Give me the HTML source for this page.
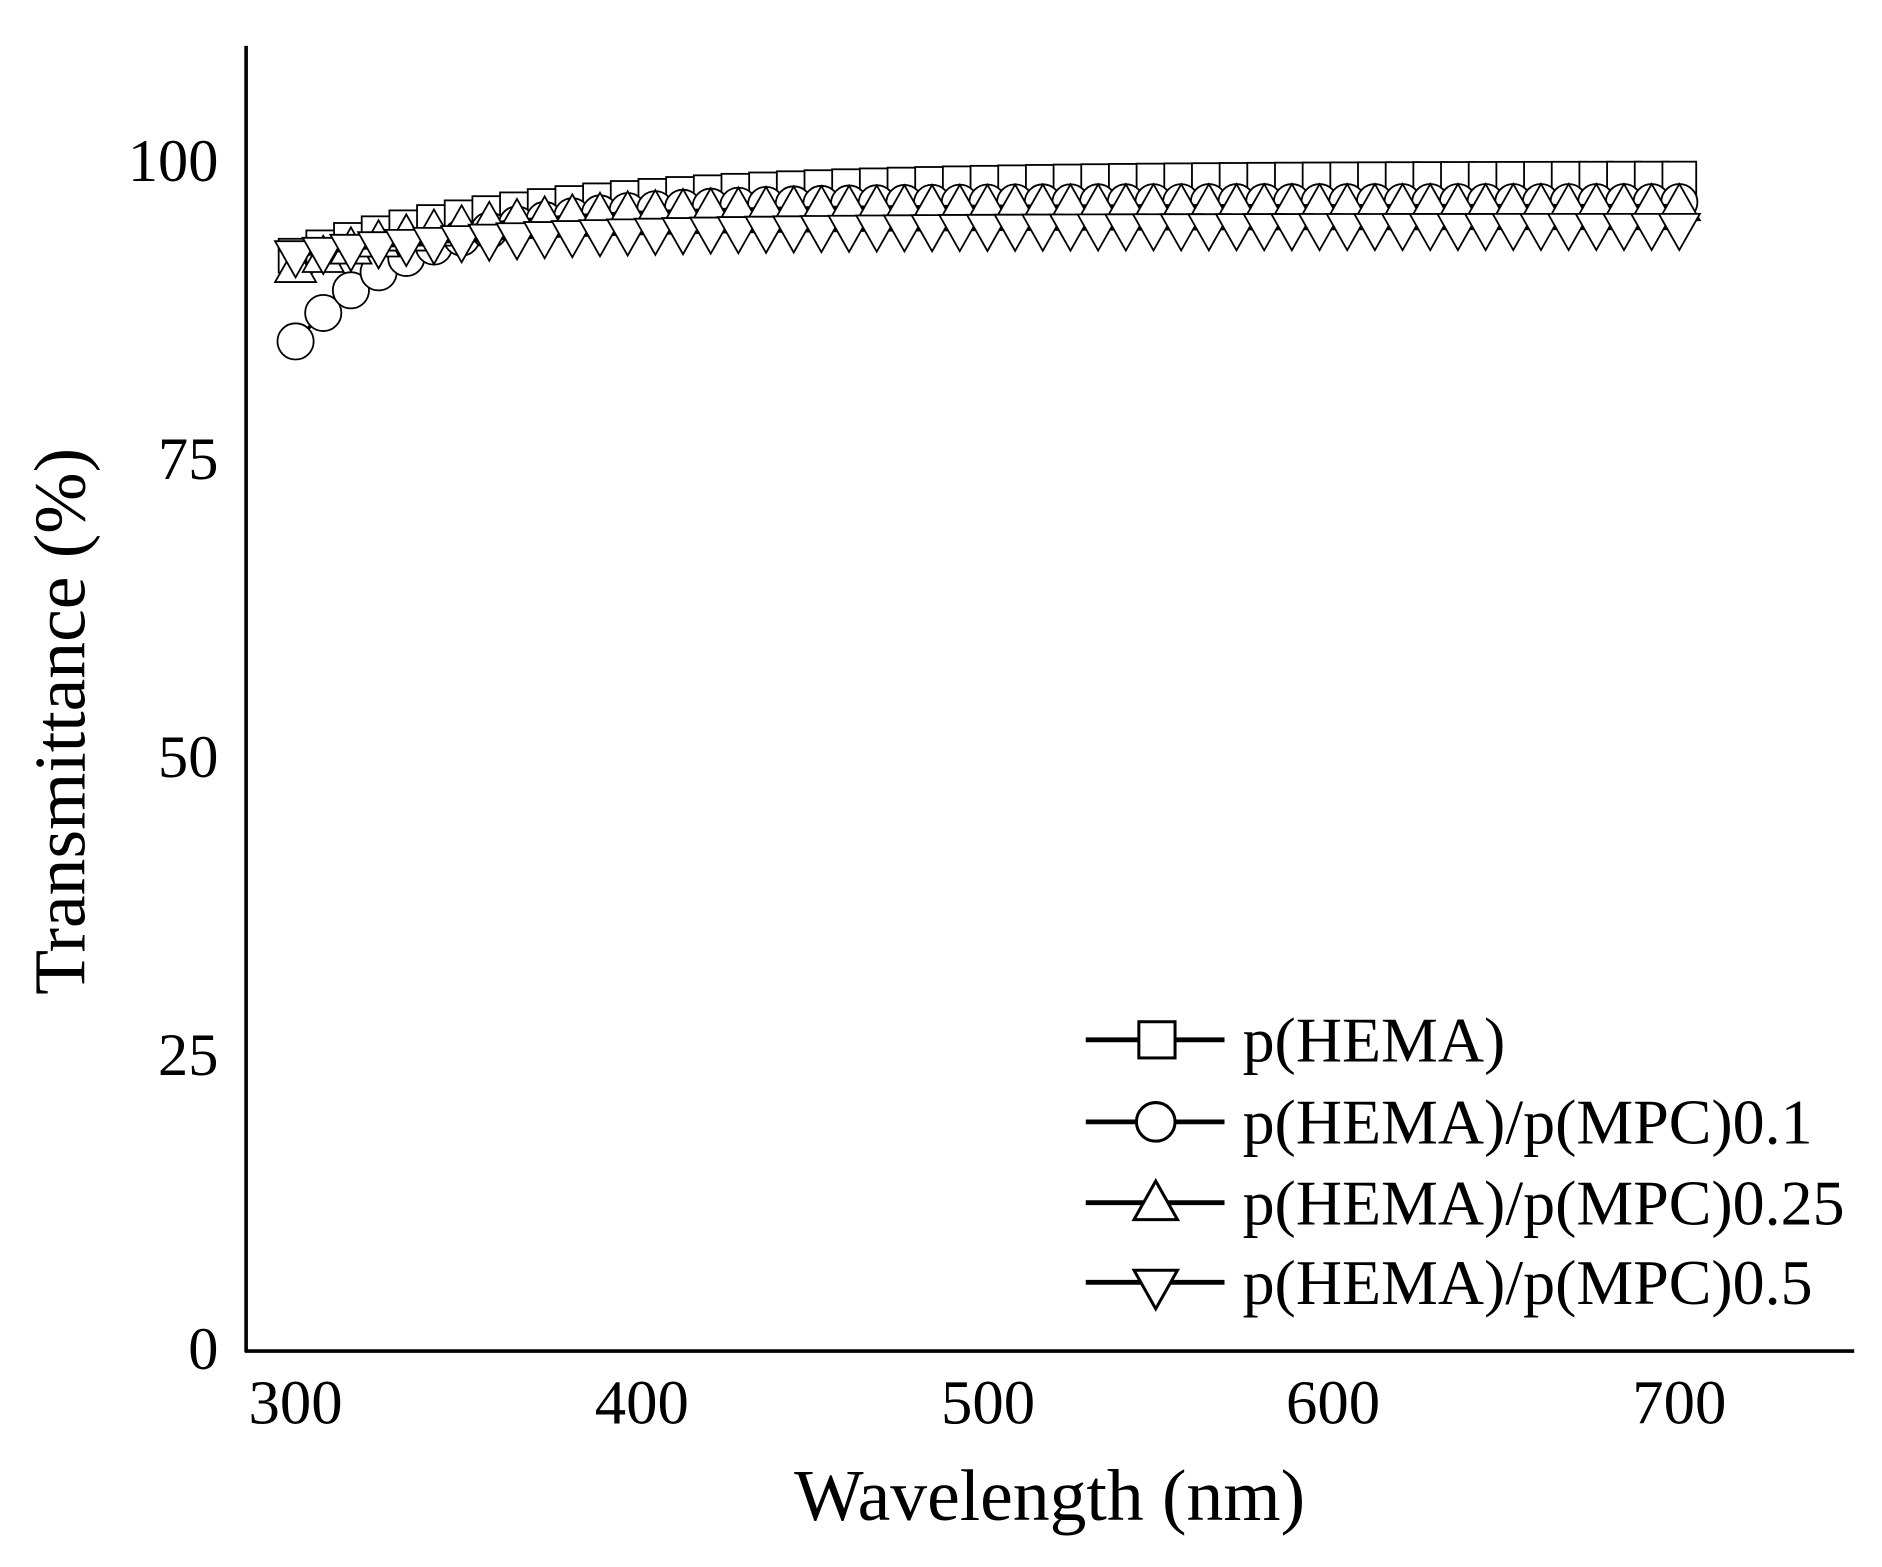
<!DOCTYPE html>
<html><head><style>
html,body{margin:0;padding:0;background:#fff;}
svg{display:block;}
text{font-family:"Liberation Serif",serif;fill:#000;}
</style></head><body>
<svg width="1882" height="1567" viewBox="0 0 1560 1299" preserveAspectRatio="none" xmlns="http://www.w3.org/2000/svg">
<g id="plot"></g>
<line x1="204" y1="38" x2="204" y2="1121" stroke="#000" stroke-width="3"/>
<line x1="203" y1="1120" x2="1537" y2="1120" stroke="#000" stroke-width="3"/>
<g font-size="50" text-anchor="end">
<text x="181" y="150">100</text>
<text x="181" y="397">75</text>
<text x="181" y="644">50</text>
<text x="181" y="891">25</text>
<text x="181" y="1135">0</text>
</g>
<g font-size="52" text-anchor="middle">
<text x="245" y="1180">300</text>
<text x="532" y="1180">400</text>
<text x="819" y="1180">500</text>
<text x="1105" y="1180">600</text>
<text x="1392" y="1180">700</text>
</g>
<text x="870" y="1260" font-size="61" text-anchor="middle">Wavelength (nm)</text>
<text transform="translate(70,598) rotate(-90)" font-size="61" text-anchor="middle">Transmittance (%)</text>
<g stroke="#000" stroke-width="4" fill="#fff">
<line x1="900" y1="862" x2="1015" y2="862"/><rect x="944" y="847" width="30" height="30" stroke-width="2.5"/>
<line x1="900" y1="930" x2="1015" y2="930"/><circle cx="958" cy="930" r="16" stroke-width="2.5"/>
<line x1="900" y1="997" x2="1015" y2="997"/><polygon points="958,979 940,1011 976,1011" stroke-width="2.5"/>
<line x1="900" y1="1063" x2="1015" y2="1063"/><polygon points="958,1085 940,1053 976,1053" stroke-width="2.5"/>
</g>
<g font-size="53">
<text x="1030" y="880">p(HEMA)</text>
<text x="1030" y="948">p(HEMA)/p(MPC)0.1</text>
<text x="1030" y="1015">p(HEMA)/p(MPC)0.25</text>
<text x="1030" y="1081">p(HEMA)/p(MPC)0.5</text>
</g>
<script>
(function(){
var g=document.getElementById('plot'),ns='http://www.w3.org/2000/svg';
function X(l){return 245+(l-300)*2.8675;}
function Y(v){return 1120-v*9.87;}
var series=[
 {v0:92,ve:98.5,t:70,m:'s'},
 {v0:84.8,ve:96.5,t:35,m:'c'},
 {v0:91,ve:96.2,t:45,m:'u'},
 {v0:92,ve:94.3,t:60,m:'d'}
];
series.forEach(function(s){
 var pts=[],d='';
 for(var l=300;l<=706;l+=8){
  var v=s.ve-(s.ve-s.v0)*Math.exp(-(l-300)/s.t);
  pts.push([X(l),Y(v)]);
 }
 d=pts.map(function(p,i){return (i?'L':'M')+p[0].toFixed(1)+','+p[1].toFixed(1);}).join('');
 var path=document.createElementNS(ns,'path');
 path.setAttribute('d',d);path.setAttribute('stroke','#000');path.setAttribute('stroke-width','3');path.setAttribute('fill','none');
 g.appendChild(path);
 pts.forEach(function(p){
  var e;
  if(s.m=='s'){e=document.createElementNS(ns,'rect');e.setAttribute('x',p[0]-14);e.setAttribute('y',p[1]-14);e.setAttribute('width',28);e.setAttribute('height',28);}
  else if(s.m=='c'){e=document.createElementNS(ns,'circle');e.setAttribute('cx',p[0]);e.setAttribute('cy',p[1]);e.setAttribute('r',15);}
  else if(s.m=='u'){e=document.createElementNS(ns,'polygon');e.setAttribute('points',p[0]+','+(p[1]-18)+' '+(p[0]-17)+','+(p[1]+12)+' '+(p[0]+17)+','+(p[1]+12));}
  else {e=document.createElementNS(ns,'polygon');e.setAttribute('points',p[0]+','+(p[1]+18)+' '+(p[0]-17)+','+(p[1]-12)+' '+(p[0]+17)+','+(p[1]-12));}
  e.setAttribute('fill','#fff');e.setAttribute('stroke','#000');e.setAttribute('stroke-width','1.5');
  g.appendChild(e);
 });
});
})();
</script>
</svg>
</body></html>
